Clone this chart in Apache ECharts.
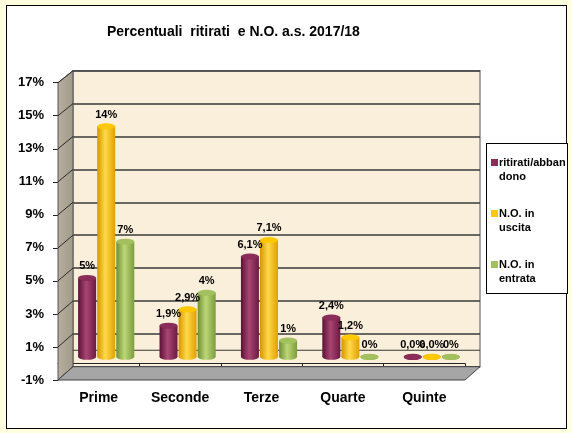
<!DOCTYPE html>
<html><head><meta charset="utf-8">
<script src="https://cdn.jsdelivr.net/npm/echarts@6/dist/echarts.min.js"></script>
<style>
html,body{margin:0;padding:0;background:#FFFFE0;width:572px;height:433px;overflow:hidden;}
#frame{position:absolute;left:6px;top:5px;width:559px;height:422px;border:1px solid #000;background:#fff;}
#lbox{position:absolute;left:486px;top:143px;width:80px;height:149px;border:1px solid #000;background:#fff;}
#c{position:absolute;left:0;top:0;width:572px;height:433px;}
</style></head>
<body>
<div id="frame"></div>
<div id="lbox"></div>
<div id="c"></div>
<script>
const categories = ['Prime','Seconde','Terze','Quarte','Quinte'];
const seriesNames = ['ritirati/abbandono','N.O. in uscita','N.O. in entrata'];
const legendLines = [['ritirati/abban','dono'],['N.O. in','uscita'],['N.O. in','entrata']];
const ritirati = [4.8, 1.9, 6.1, 2.4, 0.0];
const uscita   = [14.0, 2.9, 7.1, 1.2, 0.0];
const entrata  = [7.0, 3.9, 1.0, 0.0, 0.0];
const ritiratiLabels = ['5%','1,9%','6,1%','2,4%','0,0%'];
const uscitaLabels   = ['14%','2,9%','7,1%','1,2%','0,0%'];
const entrataLabels  = ['7%','4%','1%','0%','0%'];
const yMin = -1, yMax = 17, yStep = 2;
const titleText = 'Percentuali  ritirati  e N.O. a.s. 2017/18';

const FONT = 'Liberation Sans, Arial, sans-serif';
const G = {
  back:  {left:73,   top:70.7, width:407, height:296},
  front: {left:58,   top:82.7, width:407, height:297.3},
  mid:   {left:65.5, top:76.7, width:407, height:296.6}
};
const palette = [
  {edge:'#5a1232', mid:'#a84574', edge2:'#6c1a40', cap:'#8a2d5a', capB:'#4f0f2c'},
  {edge:'#d69600', mid:'#ffd94a', edge2:'#e0a000', cap:'#ffc800', capB:'#c08a00'},
  {edge:'#6f8f34', mid:'#bcd777', edge2:'#7c9c3c', cap:'#a2c15e', capB:'#6a8a30'}
];
const values = [ritirati, uscita, entrata];
const labels = [ritiratiLabels, uscitaLabels, entrataLabels];

function grad(p){
  return {type:'linear',x:0,y:0,x2:1,y2:0,colorStops:[
    {offset:0,color:p.edge},{offset:0.45,color:p.mid},{offset:1,color:p.edge2}]};
}

const hiddenX = (gi)=>({type:'category',gridIndex:gi,data:categories,show:false});
const hiddenY = (gi)=>({type:'value',gridIndex:gi,min:yMin,max:yMax,interval:yStep,show:false});

const series = [];
values.forEach((vals,i)=>{
  const p = palette[i];
  series.push({
    name: seriesNames[i], type:'bar', xAxisIndex:2, yAxisIndex:2,
    data: vals, barWidth:18, barGap:'6%', barCategoryGap:'30%',
    itemStyle:{color:grad(p)}, z:3,
    label:{show:true, position:'top', distance:6, color:'#000',
      fontFamily:FONT, fontSize:11, fontWeight:'bold',
      formatter:(d)=>labels[i][d.dataIndex]}
  });
});
values.forEach((vals,i)=>{
  const p = palette[i];
  series.push({
    type:'pictorialBar', xAxisIndex:2, yAxisIndex:2, data: vals,
    symbol:'circle', symbolSize:[18,6], symbolPosition:'end', symbolOffset:[0,'-50%'],
    barWidth:18, barGap:'6%', barCategoryGap:'30%',
    itemStyle:{color:p.cap, borderColor:p.capB, borderWidth:0.8}, z:4, silent:true
  });
});
values.forEach((vals,i)=>{
  const p = palette[i];
  series.push({
    type:'pictorialBar', xAxisIndex:3, yAxisIndex:3, data: vals,
    symbol:'circle', symbolSize:[18,6], symbolPosition:'start', symbolOffset:[0,'50%'],
    barWidth:18, barGap:'6%', barCategoryGap:'30%',
    itemStyle:{color:grad(p)}, z:2, silent:true
  });
});

const option = {
  backgroundColor:'transparent',
  animation:false,
  title:{text:titleText, left:107, top:25, padding:0,
    textStyle:{fontFamily:FONT, fontSize:14, fontWeight:'bold', color:'#000'}},
  legend:{
    orient:'vertical', left:491, top:157, padding:0, itemGap:26,
    icon:'none', itemWidth:0, itemHeight:0,
    data: seriesNames,
    formatter:(name)=>{
      const k = seriesNames.indexOf(name);
      return '{s'+k+'|}{t|'+legendLines[k][0]+'}\n{i|}{t|'+legendLines[k][1]+'}';
    },
    textStyle:{fontFamily:FONT, fontSize:11, fontWeight:'bold', color:'#000', padding:[0,0,0,-5],
      rich:{
        s0:{width:7,height:7,backgroundColor:palette[0].cap},
        s1:{width:7,height:7,backgroundColor:palette[1].cap},
        s2:{width:7,height:7,backgroundColor:palette[2].cap},
        i:{width:7,height:7},
        t:{fontFamily:FONT, fontSize:11, fontWeight:'bold', color:'#000', lineHeight:14, padding:[0,0,0,1]}
      }}
  },
  grid:[
    Object.assign({show:true, backgroundColor:'#f9efda', borderColor:'#8a8a8a', borderWidth:1.5, containLabel:false}, G.back),
    Object.assign({containLabel:false}, G.front),
    Object.assign({containLabel:false}, G.mid),
    Object.assign({containLabel:false}, G.mid)
  ],
  xAxis:[
    hiddenX(0),
    {type:'category', gridIndex:1, data:categories,
      axisLine:{show:true, onZero:true, lineStyle:{color:'#222', width:1}},
      axisTick:{show:true, length:5, lineStyle:{color:'#222'}},
      axisLabel:{margin:11, fontFamily:FONT, fontSize:14, fontWeight:'bold', color:'#000'}},
    hiddenX(2), hiddenX(3)
  ],
  yAxis:[
    {type:'value', gridIndex:0, min:yMin, max:yMax, interval:yStep,
      axisLine:{show:false}, axisTick:{show:false}, axisLabel:{show:false},
      splitLine:{show:true, lineStyle:{color:'#3a3a3a', width:1.5}}},
    {type:'value', gridIndex:1, min:yMin, max:yMax, interval:yStep,
      axisLine:{show:true, lineStyle:{color:'#222', width:1}},
      axisTick:{show:true, length:5, lineStyle:{color:'#222'}},
      splitLine:{show:false},
      axisLabel:{margin:14, formatter:'{value}%', fontFamily:FONT, fontSize:13, fontWeight:'bold', color:'#000'}},
    hiddenY(2), hiddenY(3)
  ],
  series: series
};

const chart = echarts.init(document.getElementById('c'), null, {renderer:'canvas'});
chart.setOption(option);

const yb = v => chart.convertToPixel({yAxisIndex:0}, v);
const yf = v => chart.convertToPixel({yAxisIndex:1}, v);
const bx0 = G.back.left, bx1 = G.back.left + G.back.width;
const fx0 = G.front.left, fx1 = G.front.left + G.front.width;
const els = [];
els.push({type:'polygon', z:1, shape:{points:[[fx0,yf(yMax)],[bx0,yb(yMax)],[bx0,yb(yMin)],[fx0,yf(yMin)]]},
  style:{fill:{type:'linear',x:0,y:0,x2:1,y2:0,colorStops:[{offset:0,color:'#b7af9f'},{offset:1,color:'#a39b89'}]}, stroke:'#555', lineWidth:1}});
for(let v=yMin; v<=yMax; v+=yStep){
  els.push({type:'line', z:1, shape:{x1:fx0,y1:yf(v),x2:bx0,y2:yb(v)}, style:{stroke:'#2a2a2a', lineWidth:1}});
}
els.push({type:'line', z:1, shape:{x1:bx0,y1:yb(0),x2:bx1,y2:yb(0)}, style:{stroke:'#3a3a3a', lineWidth:1}});
els.push({type:'polygon', z:1, shape:{points:[[fx0,yf(yMin)],[fx1,yf(yMin)],[bx1,yb(yMin)],[bx0,yb(yMin)]]},
  style:{fill:'#a6a6a6', stroke:'#444', lineWidth:1}});
chart.setOption({graphic:{elements:els}});
</script>
</body></html>
